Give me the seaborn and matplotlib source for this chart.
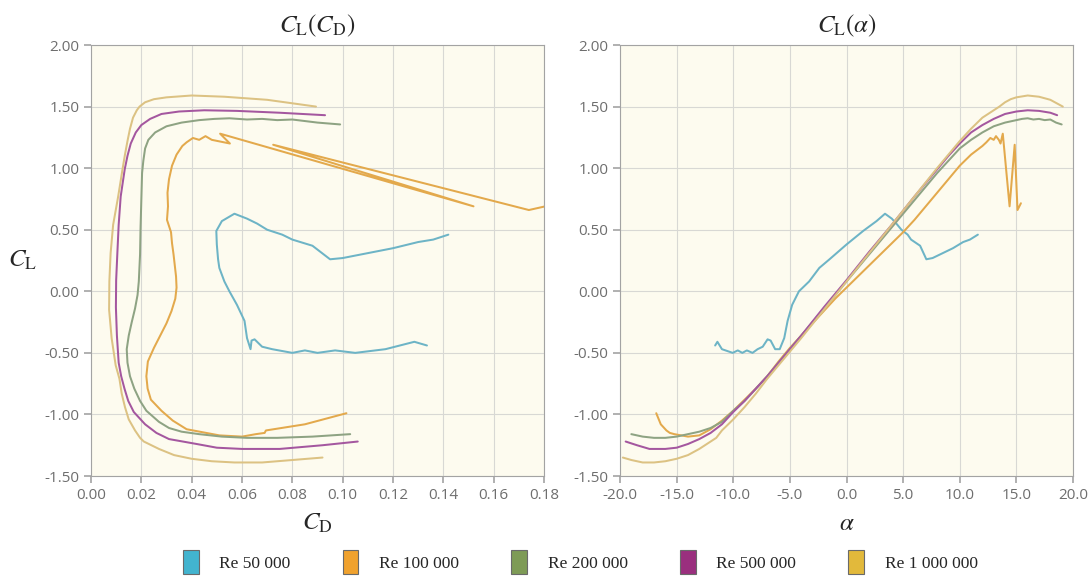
import pandas as pd
import seaborn as sns
import matplotlib.pyplot as plt
from matplotlib.patches import Patch
from matplotlib.ticker import FormatStrFormatter

# Polars: alpha [deg], CL, CD for each Reynolds number
re_labels = ["Re 50 000", "Re 100 000", "Re 200 000", "Re 500 000", "Re 1 000 000"]

alpha_50 = [-11.6, -11.4, -11.0, -10.05, -9.6, -9.2, -8.8, -8.3, -7.85, -7.4, -6.97, -6.7, -6.3, -5.9,
            -5.5, -5.2, -4.8, -4.2, -3.3, -2.4, -1.5, 0.0, 1.47, 2.65, 3.4, 4.0, 4.4, 4.85, 5.4, 5.7,
            6.5, 7.05, 7.6, 8.5, 9.4, 10.3, 10.9, 11.6]
cl_50 = [-0.44, -0.41, -0.47, -0.50, -0.48, -0.50, -0.48, -0.50, -0.47, -0.45, -0.39, -0.40, -0.47, -0.47,
         -0.38, -0.24, -0.11, 0.0, 0.08, 0.19, 0.26, 0.38, 0.49, 0.57, 0.63, 0.59, 0.55, 0.50, 0.46, 0.42,
         0.37, 0.26, 0.27, 0.31, 0.35, 0.40, 0.42, 0.46]
cd_50 = [0.1335, 0.1285, 0.117, 0.105, 0.097, 0.090, 0.085, 0.080, 0.072, 0.068, 0.065, 0.0638, 0.0634, 0.0634,
         0.062, 0.061, 0.058, 0.055, 0.053, 0.051, 0.0505, 0.050, 0.0498, 0.052, 0.057, 0.062, 0.066, 0.070,
         0.076, 0.080, 0.088, 0.095, 0.100, 0.110, 0.120, 0.130, 0.136, 0.142]

alpha_100 = [-16.8, -16.4, -15.9, -15.6, -15.2, -14, -13, -12, -11, -10, -9, -8, -7, -6, -5, -4, -3, -2, -1,
             0, 1, 2, 3, 4, 5, 6, 7, 8, 9, 10, 11, 12, 12.35, 12.7, 13.0, 13.2, 13.45, 13.6, 13.8, 14.4,
             14.85, 15.1, 15.4]
cl_100 = [-0.99, -1.08, -1.13, -1.15, -1.16, -1.18, -1.17, -1.12, -1.05, -0.97, -0.88, -0.79, -0.69, -0.57,
          -0.46, -0.36, -0.26, -0.16, -0.06, 0.03, 0.12, 0.21, 0.30, 0.39, 0.48, 0.58, 0.69, 0.80, 0.91, 1.02,
          1.11, 1.18, 1.21, 1.245, 1.23, 1.26, 1.23, 1.20, 1.28, 0.69, 1.19, 0.66, 0.715]
cd_100 = [0.1015, 0.085, 0.0695, 0.069, 0.0655, 0.060, 0.051, 0.038, 0.0325, 0.028, 0.0238, 0.0225, 0.022,
          0.0226, 0.025, 0.0275, 0.030, 0.032, 0.0335, 0.034, 0.0338, 0.0333, 0.0328, 0.0322, 0.0318, 0.0302,
          0.0306, 0.0304, 0.031, 0.0322, 0.034, 0.0363, 0.038, 0.0405, 0.043, 0.0455, 0.048, 0.0552, 0.0513,
          0.152, 0.0724, 0.174, 0.186]

alpha_200 = [-19, -18, -17, -16, -15, -14, -13, -12, -11, -10, -9, -8, -7, -6, -5, -4, -3, -2, -1, 0, 2, 4,
             6, 8, 9, 10, 11, 12, 13, 14, 15, 15.5, 16, 16.5, 17, 17.5, 18, 18.5, 19]
cl_200 = [-1.16, -1.18, -1.19, -1.19, -1.18, -1.16, -1.14, -1.11, -1.06, -0.97, -0.89, -0.79, -0.69, -0.58,
          -0.47, -0.36, -0.25, -0.14, -0.03, 0.08, 0.30, 0.52, 0.74, 0.96, 1.06, 1.16, 1.23, 1.29, 1.34, 1.37,
          1.39, 1.40, 1.405, 1.395, 1.40, 1.39, 1.395, 1.37, 1.355]
cd_200 = [0.103, 0.088, 0.074, 0.062, 0.052, 0.043, 0.036, 0.031, 0.027, 0.022, 0.0195, 0.0172, 0.0155, 0.0145,
          0.0142, 0.015, 0.0162, 0.0175, 0.0185, 0.019, 0.0195, 0.0197, 0.020, 0.0203, 0.0208, 0.0215, 0.0228,
          0.0255, 0.030, 0.036, 0.043, 0.049, 0.055, 0.062, 0.068, 0.074, 0.080, 0.090, 0.099]

alpha_500 = [-19.5, -18.5, -17.4, -16, -15, -14, -13, -12, -11, -10, -9, -8, -7, -6, -4, -2, 0, 2, 4, 6, 8,
             9, 10, 11, 12, 13, 14, 15, 16, 17, 18, 18.6]
cl_500 = [-1.22, -1.25, -1.28, -1.28, -1.27, -1.24, -1.20, -1.15, -1.08, -0.98, -0.89, -0.79, -0.69, -0.58,
          -0.36, -0.13, 0.09, 0.32, 0.54, 0.77, 0.99, 1.10, 1.20, 1.29, 1.35, 1.40, 1.44, 1.46, 1.47, 1.465,
          1.45, 1.43]
cd_500 = [0.106, 0.092, 0.075, 0.060, 0.050, 0.042, 0.031, 0.026, 0.0215, 0.017, 0.0148, 0.0133, 0.012, 0.011,
          0.0103, 0.0099, 0.0100, 0.0105, 0.0110, 0.0118, 0.0134, 0.0145, 0.0158, 0.0178, 0.020, 0.0235, 0.028,
          0.035, 0.045, 0.058, 0.075, 0.093]

alpha_1m = [-19.75, -19, -18, -17, -16, -15, -14, -13, -12, -11.5, -11, -10, -9, -8, -7, -6, -4, -2, 0, 2, 4,
            6, 8, 9, 10, 11, 12, 13, 13.5, 14, 14.5, 15, 16, 17, 18, 19.1]
cl_1m = [-1.35, -1.37, -1.39, -1.39, -1.38, -1.36, -1.33, -1.28, -1.22, -1.19, -1.13, -1.04, -0.94, -0.83,
         -0.71, -0.60, -0.38, -0.15, 0.08, 0.31, 0.54, 0.77, 1.00, 1.11, 1.22, 1.32, 1.41, 1.47, 1.50, 1.535,
         1.56, 1.575, 1.59, 1.58, 1.555, 1.50]
cd_1m = [0.092, 0.080, 0.068, 0.057, 0.048, 0.040, 0.033, 0.027, 0.021, 0.0195, 0.0175, 0.015, 0.0135, 0.0122,
         0.0113, 0.0098, 0.0082, 0.0072, 0.0073, 0.0078, 0.0088, 0.0108, 0.0126, 0.0135, 0.0145, 0.0155,
         0.0167, 0.0182, 0.0193, 0.0215, 0.025, 0.030, 0.040, 0.053, 0.070, 0.0894]

line_colors = ["#6db4c6", "#e3a94c", "#8ea383", "#a4579f", "#dcc283"]
legend_colors = ["#42b4cf", "#f0a22e", "#7e9b56", "#9a2f7e", "#e2b93b"]

frames = []
for label, a, cl, cd in zip(re_labels,
                            [alpha_50, alpha_100, alpha_200, alpha_500, alpha_1m],
                            [cl_50, cl_100, cl_200, cl_500, cl_1m],
                            [cd_50, cd_100, cd_200, cd_500, cd_1m]):
    frames.append(pd.DataFrame({"Re": label, "alpha": a, "CL": cl, "CD": cd}))
polars = pd.concat(frames, ignore_index=True)

sns.set_style("whitegrid", rc={
    "axes.facecolor": "#fdfbef",
    "axes.edgecolor": "#a3a3a3",
    "axes.linewidth": 2.0,
    "grid.color": "#d8d8d4",
    "grid.linewidth": 1.2,
    "xtick.bottom": True,
    "ytick.left": True,
})
plt.rcParams["font.family"] = ["Open Sans", "DejaVu Sans"]
plt.rcParams["mathtext.fontset"] = "stix"

fig = plt.figure(figsize=(10.91, 5.83), dpi=100)
ax1 = fig.add_axes([0.0834, 0.1835, 0.4152, 0.7393])
ax2 = fig.add_axes([0.5683, 0.1835, 0.4152, 0.7393])

palette = dict(zip(re_labels, line_colors))
sns.lineplot(data=polars, x="CD", y="CL", hue="Re", palette=palette, sort=False, estimator=None,
             linewidth=1.45, legend=False, ax=ax1)
sns.lineplot(data=polars, x="alpha", y="CL", hue="Re", palette=palette, sort=False, estimator=None,
             linewidth=1.45, legend=False, ax=ax2)

ax1.set_xlim(0, 0.18)
ax1.set_xticks([i * 0.02 for i in range(10)])
ax1.xaxis.set_major_formatter(FormatStrFormatter("%.2f"))
ax2.set_xlim(-20, 20)
ax2.set_xticks(range(-20, 21, 5))
ax2.xaxis.set_major_formatter(FormatStrFormatter("%.1f"))

for ax in (ax1, ax2):
    ax.set_ylim(-1.5, 2.0)
    ax.set_yticks([-1.5, -1.0, -0.5, 0.0, 0.5, 1.0, 1.5, 2.0])
    ax.yaxis.set_major_formatter(FormatStrFormatter("%.2f"))
    ax.tick_params(colors="#a3a3a3", labelcolor="#6e6e6e", labelsize=11, length=5, width=1.2)
    ax.set_ylabel("")

ax1.set_title(r"$C_{\mathrm{L}}(C_{\mathrm{D}})$", fontsize=18, pad=9)
ax2.set_title(r"$C_{\mathrm{L}}(\alpha)$", fontsize=18, pad=9)
ax1.set_xlabel(r"$C_{\mathrm{D}}$", fontsize=18)
ax2.set_xlabel(r"$\alpha$", fontsize=18)
ax1.xaxis.set_label_coords(0.5, -0.08)
ax2.xaxis.set_label_coords(0.5, -0.08)
ax1.set_ylabel(r"$C_{\mathrm{L}}$", fontsize=18, rotation=0, va="center")
ax1.yaxis.set_label_coords(-0.152, 0.5)

handles = [Patch(facecolor=c, edgecolor="#6a6a6a", linewidth=0.8) for c in legend_colors]
fig.legend(handles, re_labels, loc="lower center", bbox_to_anchor=(0.532, -0.012), ncol=5, frameon=False,
           prop={"family": "Liberation Serif", "size": 12.5}, handlelength=0.9, handleheight=1.75,
           handletextpad=1.2, columnspacing=3.0)

fig.savefig("out.png", dpi=100)
